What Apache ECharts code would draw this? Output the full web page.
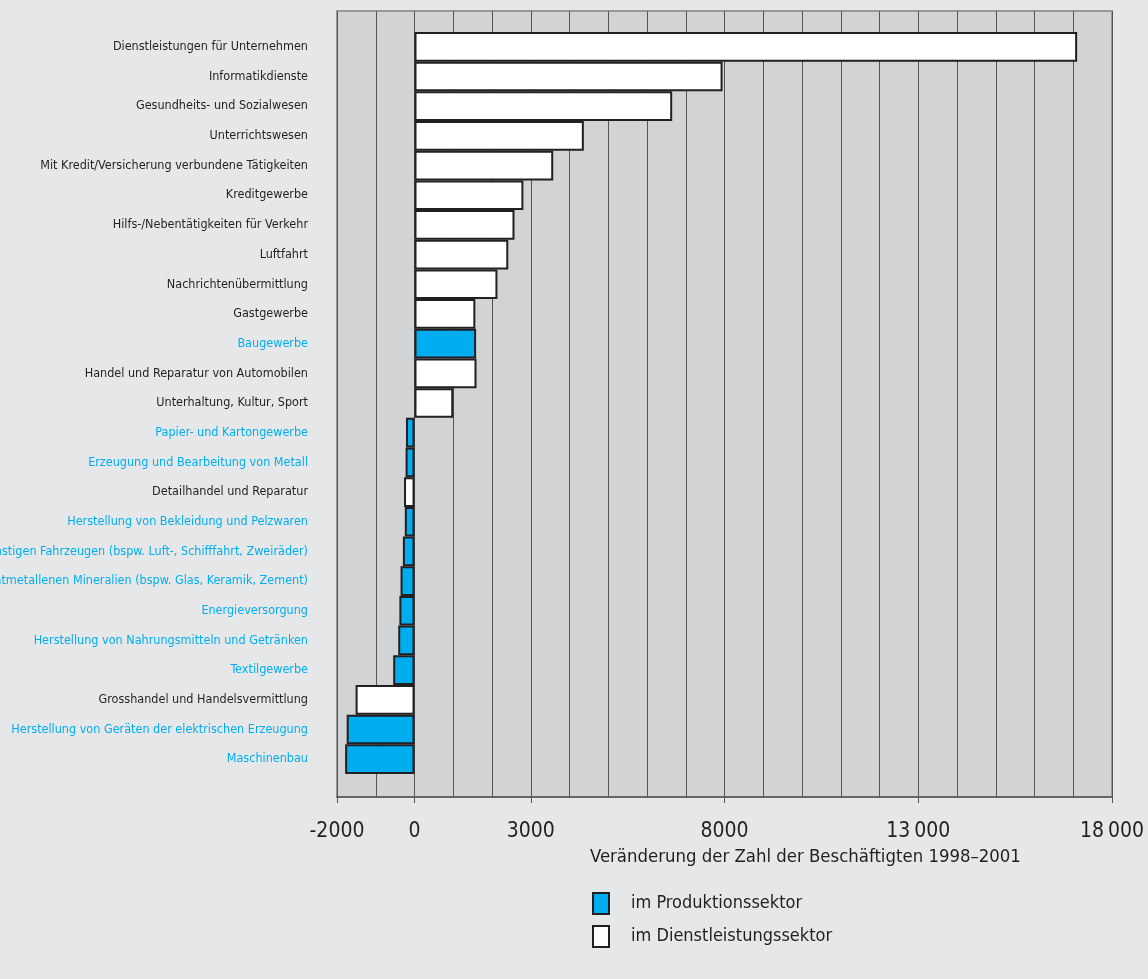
<!DOCTYPE html>
<html>
<head>
<meta charset="utf-8">
<script src="https://cdn.jsdelivr.net/npm/echarts@6/dist/echarts.min.js"></script>
<style>
  html, body { margin: 0; padding: 0; background: #e6e7e8; }
  #chart { width: 1148px; height: 979px; }
</style>
</head>
<body>
<div id="chart"></div>
<script>
  // Branchen von oben nach unten
  const categories = [
    'Dienstleistungen für Unternehmen',
    'Informatikdienste',
    'Gesundheits- und Sozialwesen',
    'Unterrichtswesen',
    'Mit Kredit/Versicherung verbundene Tätigkeiten',
    'Kreditgewerbe',
    'Hilfs-/Nebentätigkeiten für Verkehr',
    'Luftfahrt',
    'Nachrichtenübermittlung',
    'Gastgewerbe',
    'Baugewerbe',
    'Handel und Reparatur von Automobilen',
    'Unterhaltung, Kultur, Sport',
    'Papier- und Kartongewerbe',
    'Erzeugung und Bearbeitung von Metall',
    'Detailhandel und Reparatur',
    'Herstellung von Bekleidung und Pelzwaren',
    'Herstellung von sonstigen Fahrzeugen (bspw. Luft-, Schifffahrt, Zweiräder)',
    'Herstellung von Erzeugnissen aus nichtmetallenen Mineralien (bspw. Glas, Keramik, Zement)',
    'Energieversorgung',
    'Herstellung von Nahrungsmitteln und Getränken',
    'Textilgewerbe',
    'Grosshandel und Handelsvermittlung',
    'Herstellung von Geräten der elektrischen Erzeugung',
    'Maschinenbau'
  ]
  // P = Produktionssektor, D = Dienstleistungssektor
  const sectors = ['D','D','D','D','D','D','D','D','D','D','P','D','D','P','P','D','P','P','P','P','P','P','D','P','P']
  const changes = [17100, 7950, 6650, 4370, 3580, 2810, 2580, 2420, 2140, 1570, 1590, 1600, 1000,
    -220, -230, -270, -250, -300, -360, -390, -420, -550, -1520, -1750, -1790]
  const tickValues = [-2000, 0, 3000, 8000, 13000, 18000]

  const blue = '#00aeef'
  const dark = '#231f20'
  const font = '"DejaVu Sans Condensed", "Liberation Sans Narrow", sans-serif'

  const prodData = changes.map((v, i) => sectors[i] === 'P' ? v : '-')
  const servData = changes.map((v, i) => sectors[i] === 'D' ? v : '-')

  const chart = echarts.init(document.getElementById('chart'))
  const option = {
    backgroundColor: '#e6e7e8',
    animation: false,
    textStyle: { fontFamily: font },
    title: {
      text: 'Veränderung der Zahl der Beschäftigten 1998–2001',
      left: 590,
      top: 848,
      padding: 0,
      textStyle: { fontSize: 18.4, fontWeight: 'normal', color: dark, fontFamily: font }
    },
    legend: {
      orient: 'vertical',
      left: 592,
      top: 892,
      padding: 0,
      itemWidth: 16,
      itemHeight: 21,
      itemGap: 10,
      icon: 'rect',
      textStyle: { fontSize: 18, color: dark, fontFamily: font, padding: [0, 0, 0, 17] },
      data: ['im Produktionssektor', 'im Dienstleistungssektor']
    },
    grid: [
      { left: 337, right: 36, top: 11, bottom: 182, show: true, backgroundColor: '#d1d3d4',
        borderColor: '#98999b', borderWidth: 2, containLabel: false, outerBoundsMode: 'none' },
      { left: 337, right: 36, top: 32, bottom: 205, containLabel: false, outerBoundsMode: 'none' }
    ],
    xAxis: [
      {
        gridIndex: 0, type: 'value', min: -2000, max: 18000, interval: 1000,
        axisLine: { show: false }, axisTick: { show: false }, axisLabel: { show: false },
        splitLine: { show: true, lineStyle: { color: '#555557', width: 1 } }
      },
      {
        gridIndex: 0, type: 'value', min: -2000, max: 18000, position: 'bottom',
        axisLine: { show: true, lineStyle: { color: '#555557', width: 1.5 } },
        axisTick: { show: true, customValues: tickValues, length: 6, lineStyle: { color: '#555557' } },
        axisLabel: {
          customValues: tickValues, margin: 24, fontSize: 21, color: dark, fontFamily: font,
          formatter: v => Math.abs(v) >= 10000 ? String(v).replace(/(\d{3})$/, '\u2009$1') : String(v)
        },
        splitLine: { show: false }
      },
      { gridIndex: 1, type: 'value', min: -2000, max: 18000, show: false }
    ],
    yAxis: [
      { gridIndex: 0, type: 'value', show: false },
      {
        gridIndex: 1, type: 'category', inverse: true, data: categories,
        axisLine: { show: false }, axisTick: { show: false }, splitLine: { show: false },
        axisLabel: {
          margin: 29, fontSize: 12.5, fontFamily: font,
          color: (val, idx) => sectors[idx] === 'P' ? blue : dark
        }
      }
    ],
    series: [
      {
        name: 'im Produktionssektor', type: 'bar', xAxisIndex: 2, yAxisIndex: 1,
        stack: 'all', barCategoryGap: '0%', data: prodData,
        itemStyle: { color: blue, borderColor: dark, borderWidth: 2 }
      },
      {
        name: 'im Dienstleistungssektor', type: 'bar', xAxisIndex: 2, yAxisIndex: 1,
        stack: 'all', barCategoryGap: '0%', data: servData,
        itemStyle: { color: '#ffffff', borderColor: dark, borderWidth: 2 }
      }
    ]
  }
  chart.setOption(option)
</script>
</body>
</html>
